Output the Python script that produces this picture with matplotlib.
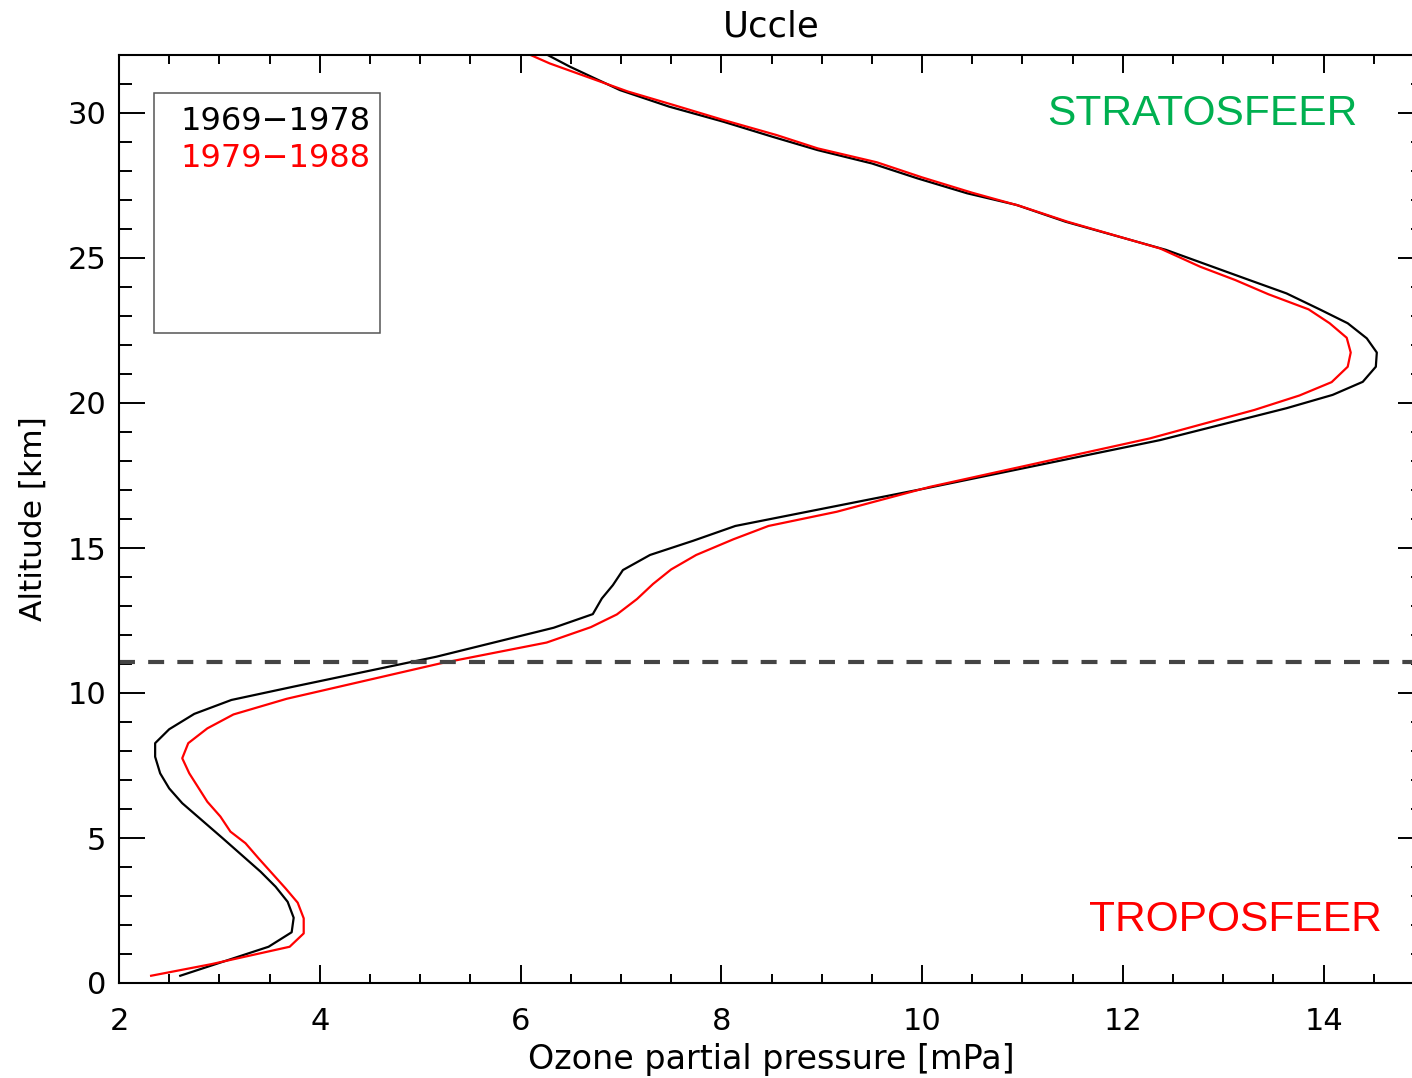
import matplotlib
matplotlib.use("Agg")
import matplotlib.pyplot as plt
from matplotlib.patches import Rectangle
from matplotlib.ticker import MultipleLocator

# ---------------- data ----------------
alt_1969 = [0.25, 1.25, 1.75, 2.25, 2.8, 3.32, 3.84, 5.0, 6.2, 6.71, 7.23, 7.8, 8.27,
            8.75, 9.28, 9.76, 10.22, 11.25, 12.25, 12.72, 13.26, 13.72, 14.24, 14.76,
            15.25, 15.76, 17.06, 18.72, 19.82, 20.28, 20.73, 21.25, 21.74, 22.23,
            22.75, 23.23, 23.78, 24.24, 25.28, 26.25, 26.83, 27.23, 27.75, 28.26,
            28.72, 29.18, 29.7, 30.22, 30.79, 31.6, 32.0]
o3_1969 = [2.61, 3.49, 3.72, 3.74, 3.68, 3.56, 3.41, 3.03, 2.63, 2.50, 2.41, 2.36, 2.36,
           2.50, 2.75, 3.12, 3.74, 5.16, 6.33, 6.72, 6.81, 6.92, 7.02, 7.29,
           7.72, 8.14, 10.04, 12.37, 13.63, 14.09, 14.39, 14.52, 14.53, 14.43,
           14.24, 13.96, 13.63, 13.26, 12.43, 11.43, 10.94, 10.45, 9.95, 9.50,
           8.96, 8.51, 8.02, 7.48, 6.99, 6.49, 6.27]

alt_1979 = [0.25, 0.65, 1.25, 1.71, 2.23, 2.77, 3.26, 4.3, 4.82, 5.22, 5.74, 6.25, 7.23,
            7.75, 8.27, 8.78, 9.26, 9.8, 11.02, 11.74, 12.27, 12.71, 13.24, 13.76,
            14.26, 14.76, 15.3, 15.76, 16.25, 17.11, 18.78, 19.76, 20.26, 20.72,
            21.25, 21.74, 22.25, 22.75, 23.23, 23.75, 24.24, 24.7, 25.33, 26.25,
            26.8, 27.25, 27.78, 28.3, 28.78, 29.24, 29.76, 30.28, 30.74, 31.25,
            31.71, 32.0]
o3_1979 = [2.32, 2.92, 3.70, 3.84, 3.84, 3.78, 3.66, 3.39, 3.26, 3.11, 3.01, 2.88, 2.70,
           2.63, 2.69, 2.88, 3.14, 3.67, 5.20, 6.26, 6.70, 6.96, 7.16, 7.32,
           7.50, 7.75, 8.12, 8.47, 9.15, 10.08, 12.27, 13.31, 13.76, 14.08,
           14.24, 14.27, 14.23, 14.06, 13.85, 13.45, 13.12, 12.77, 12.37, 11.45,
           10.97, 10.50, 10.00, 9.55, 8.96, 8.55, 8.02, 7.52, 7.07, 6.66,
           6.29, 6.10]

tropopause_km = 11.07
series_labels = ["1969\u22121978", "1979\u22121988"]
title = "Uccle"
xlabel = "Ozone partial pressure [mPa]"
ylabel = "Altitude [km]"

# ---------------- figure ----------------
plt.rcParams['font.family'] = ['DejaVu Sans']
plt.rcParams['lines.scale_dashes'] = False

W, H = 1412, 1078
fig = plt.figure(figsize=(W / 100, H / 100), dpi=100)
L, R, T, B = 119, 1424, 55, 983
ax = fig.add_axes([L / W, (H - B) / H, (R - L) / W, (B - T) / H])

ax.plot(o3_1969, alt_1969, color='black', lw=1.6)
ax.plot(o3_1979, alt_1979, color='#ff0000', lw=1.6)
ax.axhline(tropopause_km, color='#444444', lw=3.0, dashes=(11.5, 9.5))

ax.set_xlim(2, 15)
ax.set_ylim(0, 32)

ax.xaxis.set_major_locator(MultipleLocator(2))
ax.xaxis.set_minor_locator(MultipleLocator(0.5))
ax.yaxis.set_major_locator(MultipleLocator(5))
ax.yaxis.set_minor_locator(MultipleLocator(1))

ax.tick_params(axis='both', which='both', direction='in', top=True, right=True,
               width=1.4, colors='black', labelsize=22)
ax.tick_params(axis='x', which='major', length=13, pad=17)
ax.tick_params(axis='x', which='minor', length=6.5)
ax.tick_params(axis='y', which='major', length=19, pad=9)
ax.tick_params(axis='y', which='minor', length=9.5)
for s in ax.spines.values():
    s.set_linewidth(1.5)

ax.set_title(title, fontsize=25.5, pad=13)
ax.set_xlabel(xlabel, fontsize=24, labelpad=5)
ax.set_ylabel(ylabel, fontsize=22.5, labelpad=14)

# legend box
ax.add_patch(Rectangle((0.0268, 0.7004), 0.1732, 0.2586, transform=ax.transAxes,
                       fill=False, edgecolor='#555555', lw=1.1, zorder=5))
ax.text(0.0467, 0.9285, series_labels[0], transform=ax.transAxes, fontsize=23,
        color='black', ha='left', va='center')
ax.text(0.0467, 0.888, series_labels[1], transform=ax.transAxes, fontsize=23,
        color='#ff0000', ha='left', va='center')

ax.text(0.9487, 0.9365, "STRATOSFEER", transform=ax.transAxes, fontsize=30.6,
        family='Liberation Sans', color='#00b050', ha='right', va='center')
ax.text(0.9678, 0.068, "TROPOSFEER", transform=ax.transAxes, fontsize=30.6,
        family='Liberation Sans', color='#ff0000', ha='right', va='center')

fig.savefig("out.png", dpi=100)
